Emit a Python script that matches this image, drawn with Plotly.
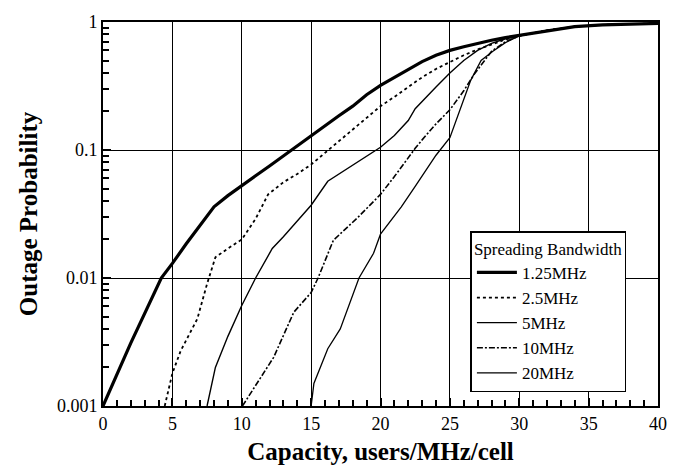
import plotly.graph_objects as go

# ---- data ----
x_125 = [0, 2, 4.2, 5, 6, 7, 8, 9, 10, 11, 12, 13, 14, 15, 16, 17, 18, 19, 20, 21, 22, 23, 24, 25, 26, 27, 28, 29, 30, 32, 34, 36, 38, 40]
y_125 = [0.001, 0.0031, 0.0100, 0.0130, 0.0185, 0.026, 0.036, 0.044, 0.053, 0.063, 0.075, 0.090, 0.108, 0.130, 0.155, 0.185, 0.22, 0.27, 0.32, 0.37, 0.43, 0.49, 0.55, 0.60, 0.64, 0.68, 0.72, 0.755, 0.785, 0.86, 0.92, 0.95, 0.965, 0.975]

x_25 = [4.45, 5, 5.6, 6.8, 7.5, 8.1, 9, 10, 11, 11.9, 13, 14, 15, 16, 17, 18, 19, 20, 21, 22, 23, 24, 25, 26, 27, 28, 29, 30, 32, 34, 36, 38, 40]
y_25 = [0.001, 0.0018, 0.0027, 0.0048, 0.0090, 0.0145, 0.017, 0.020, 0.029, 0.045, 0.056, 0.065, 0.077, 0.095, 0.118, 0.145, 0.18, 0.22, 0.26, 0.31, 0.37, 0.43, 0.49, 0.55, 0.61, 0.67, 0.73, 0.78, 0.86, 0.92, 0.95, 0.965, 0.975]

x_5 = [7.5, 8.1, 9, 10, 11, 12.2, 13, 14, 15, 16.2, 17, 18, 19, 20, 21, 22, 22.5, 23, 24, 25, 26, 27, 28, 29, 30, 32, 34, 36, 38, 40]
y_5 = [0.001, 0.002, 0.0035, 0.0061, 0.010, 0.017, 0.021, 0.028, 0.037, 0.057, 0.065, 0.076, 0.090, 0.105, 0.13, 0.17, 0.21, 0.24, 0.31, 0.40, 0.50, 0.60, 0.68, 0.74, 0.78, 0.86, 0.92, 0.95, 0.965, 0.975]

x_10 = [10.05, 10.9, 12.3, 13.75, 15, 15.5, 16.6, 18.35, 20, 21, 22, 22.5, 23, 24, 25, 26, 26.75, 28, 29, 30, 32, 34, 36, 38, 40]
y_10 = [0.001, 0.0014, 0.0024, 0.0054, 0.0077, 0.010, 0.0197, 0.0296, 0.045, 0.062, 0.088, 0.103, 0.12, 0.16, 0.206, 0.29, 0.39, 0.59, 0.70, 0.78, 0.86, 0.92, 0.95, 0.965, 0.975]

x_20 = [15.0, 15.2, 16.2, 17.1, 18.45, 19.5, 20, 21.5, 22.5, 23.4, 24, 25, 25.8, 26.5, 27.25, 28.1, 29, 30, 32, 34, 36, 38, 40]
y_20 = [0.001, 0.0015, 0.0028, 0.0040, 0.010, 0.0156, 0.022, 0.036, 0.052, 0.072, 0.091, 0.125, 0.22, 0.35, 0.50, 0.59, 0.69, 0.78, 0.86, 0.92, 0.95, 0.965, 0.975]

series_names = ["1.25MHz", "2.5MHz", "5MHz", "10MHz", "20MHz"]

FONT = "Liberation Serif, Times New Roman, serif"

styles = [
    dict(color="black", width=3.2, dash="solid"),
    dict(color="black", width=1.8, dash="dot"),
    dict(color="black", width=1.4, dash="solid"),
    dict(color="black", width=1.6, dash="6px,2px,2px,2px"),
    dict(color="black", width=1.3, dash="solid"),
]
xs = [x_125, x_25, x_5, x_10, x_20]
ys = [y_125, y_25, y_5, y_10, y_20]

fig = go.Figure()
for name, x, y, st in zip(series_names, xs, ys, styles):
    fig.add_trace(go.Scatter(x=x, y=y, mode="lines", name=name, line=st))

fig.update_layout(
    width=680, height=473,
    margin=dict(l=103, r=22, t=13, b=67),
    paper_bgcolor="white", plot_bgcolor="white",
    font=dict(family=FONT, size=18, color="black"),
    showlegend=True,
    legend=dict(
        title=dict(text="Spreading Bandwidth", font=dict(family=FONT, size=17)),
        x=0.662, y=0.455, xanchor="left", yanchor="top",
        bgcolor="white", bordercolor="black", borderwidth=1.5,
        font=dict(family=FONT, size=17),
        tracegroupgap=0, itemwidth=40,
    ),
)

fig.update_xaxes(
    range=[0, 40], dtick=5,
    showgrid=True, gridcolor="black", gridwidth=1.3,
    showline=True, linecolor="black", linewidth=2, mirror=True,
    ticks="inside", ticklen=8, tickcolor="black", tickwidth=2,
    minor=dict(dtick=1, ticks="inside", ticklen=6, tickcolor="black", tickwidth=2),
    zeroline=False,
    title=dict(text="<b>Capacity, users/MHz/cell</b>", font=dict(family=FONT, size=25), standoff=10),
)
fig.update_yaxes(
    type="log", range=[-3, 0], dtick=1,
    showgrid=True, gridcolor="black", gridwidth=1.3,
    showline=True, linecolor="black", linewidth=2, mirror=True,
    ticks="inside", ticklen=8, tickcolor="black", tickwidth=2,
    minor=dict(dtick="D1", ticks="inside", ticklen=6, tickcolor="black", tickwidth=2),
    zeroline=False,
    title=dict(text="<b>Outage Probability</b>", font=dict(family=FONT, size=25), standoff=12),
)

fig.write_html("out.html")
